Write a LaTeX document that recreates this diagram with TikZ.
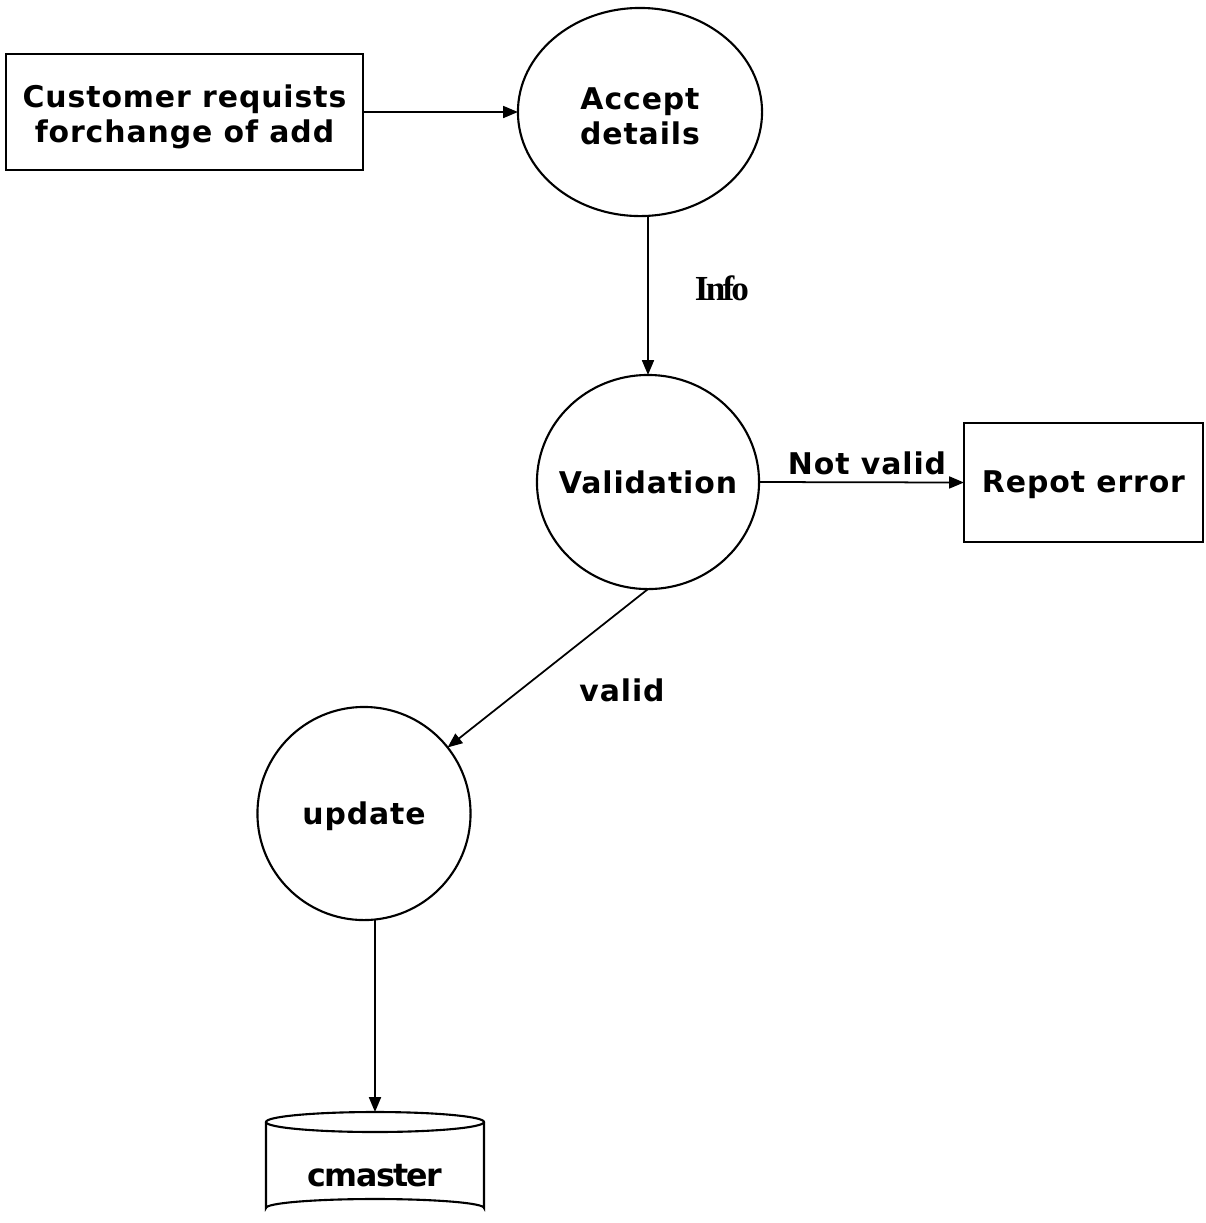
\documentclass[tikz,border=0pt]{standalone}
\usepackage{fontspec}
\setmainfont{DejaVu Sans}[LetterSpace=3]
\newfontfamily\cmfont{DejaVu Sans}[LetterSpace=-5]
\newfontfamily\infofont{Liberation Serif}[LetterSpace=-8]
\usetikzlibrary{shapes.geometric,arrows.meta}
\begin{document}
\begin{tikzpicture}[x=0.01cm,y=-0.01cm,
  txt/.style={inner sep=0pt, align=center, font=\fontsize{8.5}{10}\selectfont\bfseries},
  boxn/.style={draw, line width=0.6pt, minimum width=#1, inner sep=0pt, outer sep=0pt},
  proc/.style={draw, ellipse, line width=0.6pt, inner sep=0pt, outer sep=0pt},
  arr/.style={line width=0.5pt, -{Triangle[length=4.2pt,width=3.4pt]}}
]
\useasboundingbox (0,0) rectangle (1206,1223);
\node[boxn=3.57cm, minimum height=1.16cm] (cust) at (184.5,112) {};
\node[txt, yshift=-0.05cm] (custt) at (cust) {Customer requists\\forchange of add};
\node[proc, minimum width=2.44cm, minimum height=2.08cm] (acc) at (640,112) {};
\node[txt, yshift=-0.04cm] (acct) at (acc) {Accept\\details};
\node[proc, minimum width=2.22cm, minimum height=2.14cm] (val) at (648,482) {};
\node[txt] (valt) at (val) {Validation};
\node[boxn=2.39cm, minimum height=1.19cm] (rep) at (1083.5,482.5) {};
\node[txt, yshift=-0.02cm] (rept) at (rep) {Repot error};
\node[proc, minimum width=2.13cm, minimum height=2.13cm] (upd) at (364,813.5) {};
\node[txt, yshift=-0.03cm] (updt) at (upd) {update};
% data store cylinder
\coordinate (cmtop) at (375,1112);
\draw[line width=0.6pt] (266,1122) -- (266,1208) arc[start angle=180, end angle=360, x radius=109, y radius=9] -- (484,1122);
\draw[line width=0.6pt] (375,1122) ellipse[x radius=109, y radius=10];
\node[inner sep=0pt, font=\fontsize{9}{10}\selectfont\cmfont\bfseries] (cm) at (375,1176) {cmaster};
% connectors
\draw[arr] (cust.east) -- (acc.west);
\draw[arr] (val.north |- acc.south) -- (val.north);
\draw[arr] (val.east) -- (rep.west);
\draw[arr] (val.south) -- (upd);
\draw[arr] (cmtop |- upd.south) -- (cmtop);
% labels
\node[inner sep=0pt, font=\fontsize{10}{10}\selectfont\infofont\bfseries] (linfo) at (722,288) {Info};
\node[txt] (lnot) at (867,463) {Not valid};
\node[txt] (lvalid) at (622,690) {valid};
\end{tikzpicture}
\end{document}
